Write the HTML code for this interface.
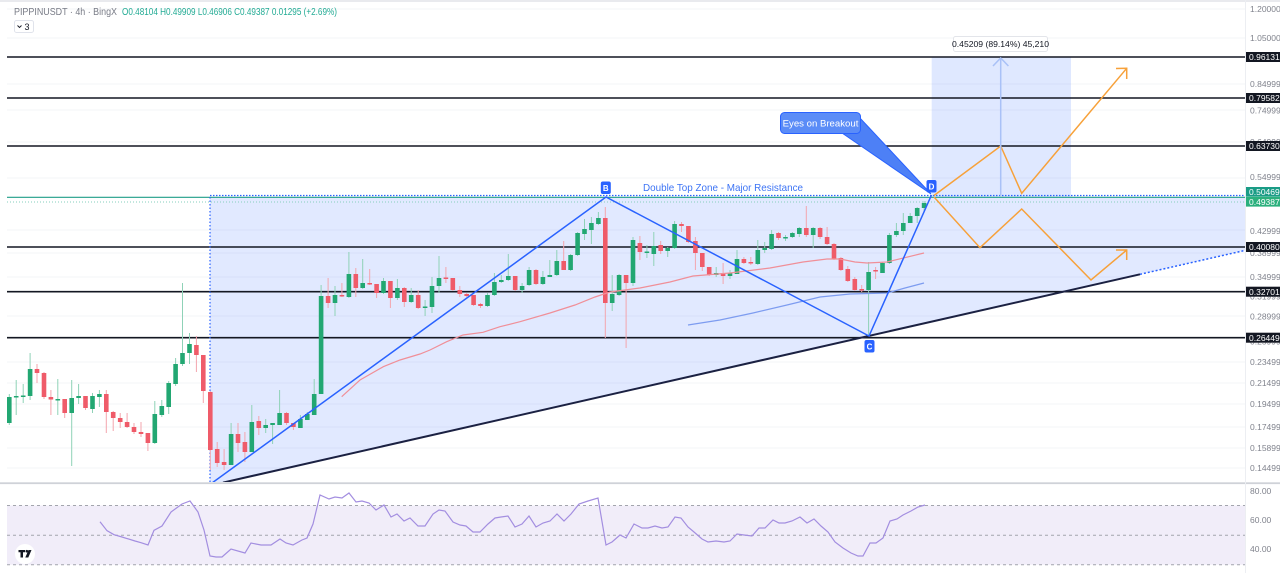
<!DOCTYPE html>
<html><head><meta charset="utf-8"><style>
html,body{margin:0;padding:0;background:#fff;}
svg{display:block;}
</style></head><body>
<svg width="1280" height="573" viewBox="0 0 1280 573" xmlns="http://www.w3.org/2000/svg" font-family="'Liberation Sans', sans-serif">
<rect width="1280" height="573" fill="#fff"/>
<line x1="0" y1="1" x2="1280" y2="1" stroke="#dcdee3" stroke-width="1.2"/>
<defs><clipPath id="cp"><rect x="7" y="0" width="1238" height="482"/></clipPath></defs>
<!-- faint grid -->
<g stroke="#f3f4f7" stroke-width="1">
<line x1="7" y1="9" x2="1245" y2="9"/><line x1="7" y1="38" x2="1245" y2="38"/><line x1="7" y1="84" x2="1245" y2="84"/><line x1="7" y1="110" x2="1245" y2="110"/><line x1="7" y1="142" x2="1245" y2="142"/><line x1="7" y1="178" x2="1245" y2="178"/><line x1="7" y1="230" x2="1245" y2="230"/><line x1="7" y1="253" x2="1245" y2="253"/><line x1="7" y1="277" x2="1245" y2="277"/><line x1="7" y1="316" x2="1245" y2="316"/><line x1="7" y1="362" x2="1245" y2="362"/><line x1="7" y1="383" x2="1245" y2="383"/><line x1="7" y1="404" x2="1245" y2="404"/><line x1="7" y1="427" x2="1245" y2="427"/><line x1="7" y1="448" x2="1245" y2="448"/><line x1="7" y1="468" x2="1245" y2="468"/>
</g>
<g clip-path="url(#cp)">
<!-- big zone -->
<polygon points="210,197 1245,197 1245,250.4 1140,274.3 223,482.6 223,483 210,483" fill="rgba(41,98,255,0.14)"/>
<!-- breakout rect -->
<rect x="931.7" y="57" width="139.3" height="140" fill="rgba(41,98,255,0.15)"/>
<!-- horizontal levels -->
<g stroke="#131722" stroke-width="1.6">
<line x1="7" y1="57" x2="1245" y2="57"/><line x1="7" y1="98" x2="1245" y2="98"/><line x1="7" y1="146" x2="1245" y2="146"/><line x1="7" y1="247" x2="1245" y2="247"/><line x1="7" y1="291.7" x2="1245" y2="291.7"/><line x1="7" y1="337.7" x2="1245" y2="337.7"/>
</g>
<line x1="7" y1="197.3" x2="1245" y2="197.3" stroke="#1f9e88" stroke-width="1.2"/>
<line x1="210" y1="195.5" x2="1245" y2="195.5" stroke="#2962ff" stroke-width="1.2" stroke-dasharray="1.5,1.5"/>
<line x1="7" y1="202" x2="1245" y2="202" stroke="#86cfbc" stroke-width="1" stroke-dasharray="1,2"/>
<line x1="210" y1="197" x2="210" y2="483" stroke="#2962ff" stroke-width="1.2" stroke-dasharray="1.5,2"/>
<!-- trend line -->
<line x1="223" y1="482.6" x2="1140" y2="274.3" stroke="#1b2142" stroke-width="2"/>
<line x1="1140" y1="274.3" x2="1245" y2="250.4" stroke="#2962ff" stroke-width="1.5" stroke-dasharray="2,2"/>
<!-- candles -->
<path fill="none" stroke="#8fd2b7" stroke-width="1" d="M9.3,394V425M16.2,380V415M23.2,384V403M30.1,353V400M57.8,379V415M71.7,380V466M78.6,384V404M92.5,393V413M99.4,390V407M154.8,401V444M161.8,400V417M168.7,381V414M175.6,358V386M182.5,283V366M189.5,333V364M231.1,423V465M251.8,405V452M265.7,419V433M272.6,423V444M279.6,390V425M300.4,415V428M307.3,412V420M314.2,379V415M321.1,285V394M335,286V316M348.9,252V298M362.7,259V289M383.5,278V294M397.4,279V300M411.2,288V303M425.1,300V316M432,277V313M439,256V293M487.5,293V307M494.4,273V296M501.3,275V283M508.3,254V281M522.1,283V293M529.1,267V286M542.9,271V285M549.8,260V277M556.8,250V276M570.6,254V271M577.6,232V256M584.5,219V240M591.4,217V244M598.4,212V225M612.2,275V311M619.1,274V296M633,237V286M646.9,245V258M653.8,232V266M667.7,247V257M674.6,221V249M716.2,267V277M730,270V279M737,250V274M757.8,240V265M764.7,242V253M771.6,230V250M785.5,235V241M792.4,232V238M799.3,227V237M813.2,227V248M868.6,262V336M882.5,262V273M889.4,233V264M896.4,223V237M903.3,213V235M910.2,213V223M917.2,207V223M924.1,201V212"/>
<path fill="none" stroke="#f3a5ae" stroke-width="1" d="M37,364V383M44,372V399M50.9,390V415M64.7,399V418M85.5,396V410M106.3,390V433M113.2,411V431M120.2,413V428M127.1,413V428M134,423V434M141,422V437M147.9,433V451M196.4,336V372M203.3,355V403M210.3,391V470M217.2,442V467M224.1,449V470M238,423V452M244.9,432V462M258.8,416V435M286.5,412V425M293.4,423V430M328.1,278V308M341.9,283V297M355.8,268V297M369.7,269V285M376.6,284V298M390.4,281V308M404.3,287V307M418.2,290V309M445.9,267V283M452.8,278V291M459.8,286V297M466.7,293V297M473.6,295V306M480.5,303V308M515.2,276V291M536,269V285M563.7,241V270M605.3,207V338M626.1,275V348M639.9,236V260M660.7,241V254M681.5,222V232M688.4,226V243M695.4,237V270M702.3,253V271M709.2,267V276M723.1,263V284M743.9,257V264M750.8,257V265M778.5,232V240M806.3,206V237M820.1,227V239M827.1,227V245M834,243V260M840.9,257V271M847.8,266V282M854.8,277V291M861.7,285V292M875.6,267V279"/>
<path fill="#22a772" d="M7,397h4.6V423h-4.6ZM13.9,396h4.6V397.5h-4.6ZM20.9,395.5h4.6V397h-4.6ZM27.8,369h4.6V396h-4.6ZM55.5,399h4.6V400.5h-4.6ZM69.4,398h4.6V413h-4.6ZM76.3,396h4.6V398h-4.6ZM90.2,396h4.6V409h-4.6ZM97.1,394h4.6V397h-4.6ZM152.5,414h4.6V443h-4.6ZM159.5,406h4.6V415h-4.6ZM166.4,383h4.6V407h-4.6ZM173.3,364h4.6V384h-4.6ZM180.2,353h4.6V364h-4.6ZM187.2,344h4.6V353h-4.6ZM228.8,434h4.6V465h-4.6ZM249.5,422h4.6V452h-4.6ZM263.4,425h4.6V428h-4.6ZM270.3,423h4.6V425h-4.6ZM277.3,413h4.6V425h-4.6ZM298.1,419h4.6V428h-4.6ZM305,414h4.6V420h-4.6ZM311.9,394h4.6V415h-4.6ZM318.8,296h4.6V394h-4.6ZM332.7,295h4.6V303h-4.6ZM346.6,274h4.6V297h-4.6ZM360.4,283h4.6V288h-4.6ZM381.2,281h4.6V293h-4.6ZM395.1,288h4.6V298h-4.6ZM408.9,295h4.6V302h-4.6ZM422.8,306.5h4.6V308h-4.6ZM429.7,286h4.6V307h-4.6ZM436.7,278h4.6V286h-4.6ZM485.2,295h4.6V306h-4.6ZM492.1,282h4.6V295h-4.6ZM499,280h4.6V282h-4.6ZM506,276h4.6V280h-4.6ZM519.8,286h4.6V290h-4.6ZM526.8,270h4.6V285h-4.6ZM540.6,277h4.6V284h-4.6ZM547.5,275h4.6V277h-4.6ZM554.5,261h4.6V275h-4.6ZM568.3,255h4.6V270h-4.6ZM575.3,233h4.6V255h-4.6ZM582.2,229h4.6V234h-4.6ZM589.1,223h4.6V230h-4.6ZM596.1,218h4.6V224h-4.6ZM609.9,294h4.6V303h-4.6ZM616.8,275h4.6V295h-4.6ZM630.7,240h4.6V283h-4.6ZM644.6,251.5h4.6V253h-4.6ZM651.5,246h4.6V254h-4.6ZM665.4,248h4.6V251h-4.6ZM672.3,224h4.6V248h-4.6ZM713.9,273h4.6V275h-4.6ZM727.7,273h4.6V276h-4.6ZM734.7,259h4.6V274h-4.6ZM755.5,250h4.6V264h-4.6ZM762.4,248h4.6V250h-4.6ZM769.3,234h4.6V249h-4.6ZM783.2,237h4.6V238.5h-4.6ZM790.1,233h4.6V237h-4.6ZM797,228h4.6V234h-4.6ZM810.9,228h4.6V235h-4.6ZM866.3,272h4.6V290h-4.6ZM880.2,263h4.6V273h-4.6ZM887.1,235h4.6V263h-4.6ZM894.1,231h4.6V235h-4.6ZM901,223h4.6V231h-4.6ZM907.9,216h4.6V223h-4.6ZM914.9,208h4.6V216h-4.6ZM921.8,203h4.6V208h-4.6Z"/>
<path fill="#ef5b69" d="M34.7,369h4.6V373h-4.6ZM41.7,373h4.6V397h-4.6ZM48.6,397h4.6V399.5h-4.6ZM62.4,399h4.6V413h-4.6ZM83.2,396h4.6V408h-4.6ZM104,394h4.6V412h-4.6ZM110.9,412h4.6V418h-4.6ZM117.9,418h4.6V422h-4.6ZM124.8,422h4.6V427h-4.6ZM131.7,427h4.6V432h-4.6ZM138.7,432h4.6V434h-4.6ZM145.6,433h4.6V443h-4.6ZM194.1,345h4.6V355h-4.6ZM201,355h4.6V391h-4.6ZM208,392h4.6V450h-4.6ZM214.9,449h4.6V463h-4.6ZM221.8,462h4.6V465h-4.6ZM235.7,434h4.6V443h-4.6ZM242.6,442h4.6V452h-4.6ZM256.5,421h4.6V428h-4.6ZM284.2,413h4.6V423h-4.6ZM291.1,423h4.6V427h-4.6ZM325.8,296h4.6V303h-4.6ZM339.6,295h4.6V296.5h-4.6ZM353.5,274h4.6V288h-4.6ZM367.4,283h4.6V284.5h-4.6ZM374.3,284h4.6V293h-4.6ZM388.1,281h4.6V298h-4.6ZM402,288h4.6V302h-4.6ZM415.9,295h4.6V308h-4.6ZM443.6,277.5h4.6V279h-4.6ZM450.5,278h4.6V290h-4.6ZM457.5,290h4.6V294h-4.6ZM464.4,294h4.6V296h-4.6ZM471.3,295h4.6V305h-4.6ZM478.2,304h4.6V306h-4.6ZM512.9,276h4.6V290h-4.6ZM533.7,270h4.6V284h-4.6ZM561.4,261h4.6V270h-4.6ZM603,218h4.6V303h-4.6ZM623.8,275h4.6V283h-4.6ZM637.6,243h4.6V252h-4.6ZM658.4,245h4.6V251h-4.6ZM679.2,224h4.6V226h-4.6ZM686.1,226h4.6V242h-4.6ZM693.1,241h4.6V253h-4.6ZM700,253h4.6V267h-4.6ZM706.9,267h4.6V275h-4.6ZM720.8,273h4.6V276h-4.6ZM741.6,259h4.6V263h-4.6ZM748.5,262h4.6V263.5h-4.6ZM776.2,233h4.6V238h-4.6ZM804,228h4.6V235h-4.6ZM817.8,228h4.6V237h-4.6ZM824.8,237h4.6V244h-4.6ZM831.7,244h4.6V259h-4.6ZM838.6,258h4.6V270h-4.6ZM845.5,269h4.6V281h-4.6ZM852.5,279h4.6V290h-4.6ZM859.4,289h4.6V290.5h-4.6ZM873.3,270h4.6V271.5h-4.6Z"/>
<!-- MAs -->
<polyline fill="none" stroke="#f08f98" stroke-width="1.2" points="341.7,396.7 360,380 383.3,366.7 400,360 420,354 430,350 446.7,341.7 463,335 483,332.3 500,326.7 520,321.7 550,313 575,305 595,297 610,292 640,288 670,282 693,276 730,273 770,268 803,262 827,259 840,259 855,262 867,263 887,262 924,253"/>
<polyline fill="none" stroke="#7d9cf0" stroke-width="1.2" points="688,325 720,320 753,313 787,305 820,297 850,294 887,293 905,288 924,283"/>
<!-- zigzag -->
<polyline fill="none" stroke="#2962ff" stroke-width="1.5" points="212,483 606,197 869,336 931.5,195"/>
<!-- orange projections -->
<g fill="none" stroke="#f7a13a" stroke-width="1.5">
<polyline points="934,195.5 1000.7,146 1021.7,193.3 1126.7,68.3"/>
<polyline points="1116,68.5 1126.7,68.3 1126.7,79"/>
<polyline points="934,197 980,247.7 1021.7,209 1091,280 1126.7,250"/>
<polyline points="1116,250 1126.7,250 1126.7,260"/>
</g>
</g>
<!-- breakout arrow -->
<line x1="1000.7" y1="196" x2="1000.7" y2="58" stroke="#a9c1f7" stroke-width="1.5"/>
<polyline points="993,66 1000.7,58 1008.4,66" fill="none" stroke="#a9c1f7" stroke-width="1.5"/>
<rect x="953.5" y="36.5" width="94" height="15" rx="2" fill="#fff" stroke="#e3e5ea" stroke-width="1"/>
<text x="1000.5" y="47" font-size="8.6" fill="#131722" text-anchor="middle">0.45209 (89.14%) 45,210</text>
<!-- callout -->
<polygon points="842,133 860,118 931,194" fill="#4d80f6" stroke="#2962ff" stroke-width="1"/>
<rect x="780.5" y="112.5" width="80" height="21" rx="4" fill="#5b8cf7" stroke="#2962ff" stroke-width="1"/>
<text x="820.5" y="126.5" font-size="9.6" fill="#fff" text-anchor="middle">Eyes on Breakout</text>
<!-- text -->
<text x="643" y="191" font-size="10.5" fill="#3d74f5" textLength="160" lengthAdjust="spacingAndGlyphs">Double Top Zone - Major Resistance</text>
<!-- point labels -->
<rect x="600.8" y="181.5" width="10" height="12.5" rx="2" fill="#2962ff"/>
<text x="605.8" y="191" font-size="8" font-weight="bold" fill="#fff" text-anchor="middle">B</text>
<rect x="864.5" y="340" width="10" height="12.5" rx="2" fill="#2962ff"/>
<text x="869.5" y="349.5" font-size="8" font-weight="bold" fill="#fff" text-anchor="middle">C</text>
<rect x="926.5" y="180" width="10" height="12.5" rx="2" fill="#2962ff"/>
<text x="931.5" y="189.5" font-size="8" font-weight="bold" fill="#fff" text-anchor="middle">D</text>
<!-- separator -->
<rect x="0" y="482.3" width="1280" height="1.8" fill="#cfd2d8"/>
<line x1="1245.5" y1="0" x2="1245.5" y2="573" stroke="#eceef2" stroke-width="1"/>
<!-- RSI -->
<rect x="7" y="505.5" width="1238" height="59.2" fill="#f1edf9"/>
<g stroke="#a3a5ad" stroke-width="1" stroke-dasharray="3,3">
<line x1="7" y1="505.5" x2="1245" y2="505.5"/><line x1="7" y1="535.3" x2="1245" y2="535.3"/><line x1="7" y1="564.7" x2="1245" y2="564.7"/>
</g>
<polyline fill="none" stroke="#a38ee0" stroke-width="1.2" points="100,521.7 107,530.7 114,534.7 122,537 135,541 141,542.7 148,545 154,530.3 162,526 171,512 182,504 190,501 198,512 204,530 210,556 216,557 222,557 231,549 245,553 251,543 261,545 271,545 280,539 286,543 293,545 302,540 307,538 313,524 320,495 329,499 335,497 342,498 349,493 356,502 362,501 369,503 376,510 384,505 391,517 397,514 404,521 410,518 418,526 425,526 433,514 439,510 445,511 453,522 460,525 466,526 473,532 480,532 488,524 495,518 501,517 508,516 515,527 522,524 529,516 536,527 543,523 550,521 557,514 564,521 571,514 579,504 588,501 598,498 606,545 612,542 620,535 626,538 634,524 642,528 648,528 655,526 662,528 668,527 675,517 681,518 688,527 694,532 702,539 708,542 716,541 724,542 730,541 737,534 744,535 752,536 759,528 765,528 773,520 779,523 785,523 792,521 800,517 807,523 814,519 821,526 828,532 835,542 843,548 851,553 858,556 863,556 870,543 876,543 883,538 890,521 897,519 903,515 911,511 918,507 925,505"/>
<!-- TV logo -->
<circle cx="25" cy="554" r="10" fill="#fff"/>
<path d="M18.5,550h6.5v2.3h-2v5.2h-2.5v-5.2h-2Z" fill="#131722"/>
<circle cx="26.8" cy="551.2" r="1.3" fill="#131722"/>
<path d="M28.5,550h3l-3.2,7.5h-3Z" fill="#131722"/>
<!-- header -->
<text x="14" y="15" font-size="10" fill="#787b86" textLength="103" lengthAdjust="spacingAndGlyphs">PIPPINUSDT · 4h · BingX</text>
<text x="122" y="15" font-size="10" fill="#22ab94" textLength="215" lengthAdjust="spacingAndGlyphs">O0.48104 H0.49909 L0.46906 C0.49387 0.01295 (+2.69%)</text>
<rect x="14.5" y="20.5" width="19" height="12" rx="2" fill="#fff" stroke="#e0e3eb" stroke-width="1"/>
<polyline points="17.5,25.5 19.5,27.5 21.5,25.5" fill="none" stroke="#131722" stroke-width="0.9"/>
<text x="24.5" y="30" font-size="9" fill="#131722">3</text>
<!-- axis labels -->
<g font-size="8.5" fill="#80838d">
<text x="1250" y="12">1.20000</text>
<text x="1250" y="41">1.05000</text>
<text x="1250" y="87">0.84999</text>
<text x="1250" y="113.5">0.74999</text>
<text x="1250" y="145">0.64999</text>
<text x="1250" y="180">0.54999</text>
<text x="1250" y="234">0.42999</text>
<text x="1250" y="256">0.38999</text>
<text x="1250" y="280">0.34999</text>
<text x="1250" y="299.5">0.31999</text>
<text x="1250" y="319.5">0.28999</text>
<text x="1250" y="344.5">0.25999</text>
<text x="1250" y="365">0.23499</text>
<text x="1250" y="386">0.21499</text>
<text x="1250" y="407">0.19499</text>
<text x="1250" y="430">0.17499</text>
<text x="1250" y="451">0.15899</text>
<text x="1250" y="471">0.14499</text>
<text x="1250" y="494">80.00</text>
<text x="1250" y="523">60.00</text>
<text x="1250" y="552">40.00</text>
</g>
<!-- price boxes -->
<g font-size="8.5" fill="#fff">
<rect x="1246" y="52" width="34" height="10" fill="#131722"/><text x="1249" y="60.2">0.96131</text>
<rect x="1246" y="93" width="34" height="10" fill="#131722"/><text x="1249" y="101.2">0.79582</text>
<rect x="1246" y="141" width="34" height="10" fill="#131722"/><text x="1249" y="149.2">0.63730</text>
<rect x="1246" y="187" width="34" height="9.6" fill="#1a9c86"/><text x="1249" y="194.8">0.50469</text>
<rect x="1246" y="196.8" width="34" height="9.8" fill="#2bb07d"/><text x="1249" y="204.8">0.49387</text>
<rect x="1246" y="242" width="34" height="10" fill="#131722"/><text x="1249" y="250.2">0.40080</text>
<rect x="1246" y="286.7" width="34" height="10" fill="#131722"/><text x="1249" y="294.9">0.32701</text>
<rect x="1246" y="332.7" width="34" height="10" fill="#131722"/><text x="1249" y="340.9">0.26449</text>
</g>
</svg>
</body></html>
